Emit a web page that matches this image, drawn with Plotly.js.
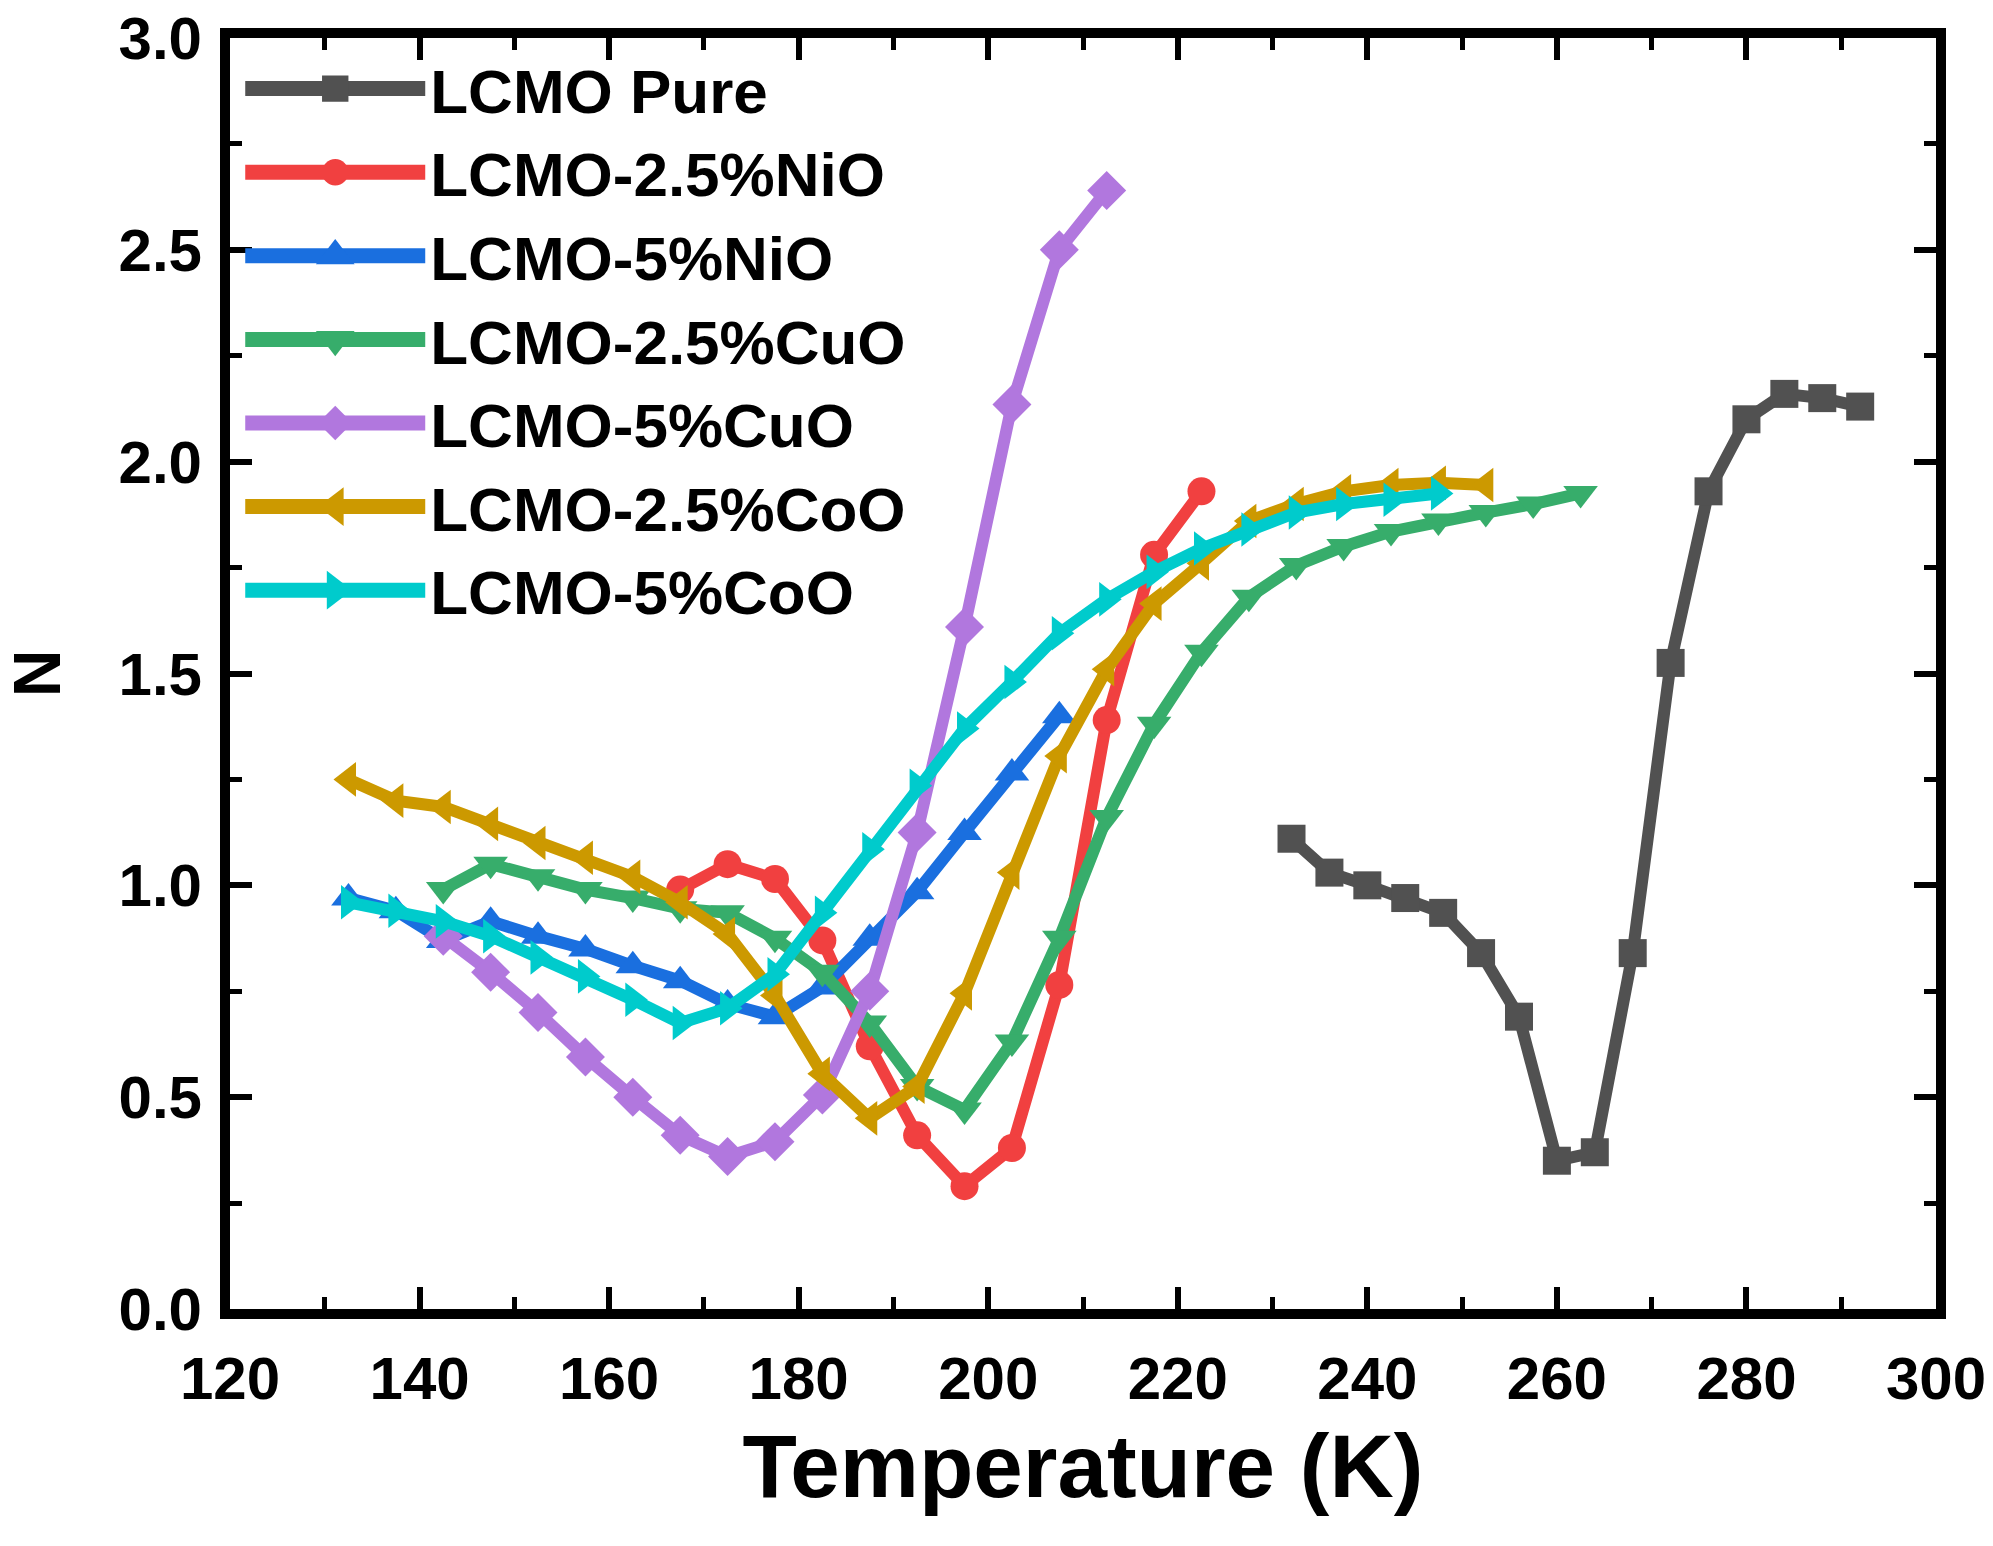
<!DOCTYPE html>
<html>
<head>
<meta charset="utf-8">
<script src="https://cdn.plot.ly/plotly-3.0.1.min.js"></script>
<style>
  html, body { margin: 0; padding: 0; background: #fff; }
  #chart { width: 1993px; height: 1546px; }
</style>
</head>
<body>
<div id="chart"></div>
<script>
// temperatures (K)
const tPure = [232, 236, 240, 244, 248, 252, 256, 260, 264, 268, 272, 276, 280, 284, 288, 292];
const tNi25 = [167.5, 172.5, 177.5, 182.5, 187.5, 192.5, 197.5, 202.5, 207.5, 212.5, 217.5, 222.5];
const tNi5 = [132.5, 137.5, 142.5, 147.5, 152.5, 157.5, 162.5, 167.5, 172.5, 177.5, 182.5, 187.5,
    192.5, 197.5, 202.5, 207.5];
const tCu25 = [142.5, 147.5, 152.5, 157.5, 162.5, 167.5, 172.5, 177.5, 182.5, 187.5, 192.5, 197.5,
    202.5, 207.5, 212.5, 217.5, 222.5, 227.5, 232.5, 237.5, 242.5, 247.5, 252.5, 257.5, 262.5];
const tCu5 = [142.5, 147.5, 152.5, 157.5, 162.5, 167.5, 172.5, 177.5, 182.5, 187.5, 192.5, 197.5,
    202.5, 207.5, 212.5];
const tCo25 = [132.5, 137.5, 142.5, 147.5, 152.5, 157.5, 162.5, 167.5, 172.5, 177.5, 182.5, 187.5,
    192.5, 197.5, 202.5, 207.5, 212.5, 217.5, 222.5, 227.5, 232.5, 237.5, 242.5, 247.5, 252.5];
const tCo5 = [132.5, 137.5, 142.5, 147.5, 152.5, 157.5, 162.5, 167.5, 172.5, 177.5, 182.5, 187.5,
    192.5, 197.5, 202.5, 207.5, 212.5, 217.5, 222.5, 227.5, 232.5, 237.5, 242.5, 247.5];

// N values
const nPure = [1.11, 1.03, 1.00, 0.97, 0.935, 0.84, 0.69, 0.35, 0.37, 0.84, 1.525, 1.93, 2.10, 2.16, 2.15, 2.13];
const nNi25 = [0.99, 1.05, 1.015, 0.87, 0.62, 0.41, 0.29, 0.38, 0.765, 1.39, 1.78, 1.93];
const nNi5 = [0.97, 0.94, 0.87, 0.915, 0.88, 0.85, 0.81, 0.775, 0.72, 0.69, 0.76, 0.875,
    0.985, 1.125, 1.265, 1.40];
const nCu25 = [0.99, 1.05, 1.02, 0.99, 0.97, 0.945, 0.935, 0.875, 0.795, 0.675, 0.525, 0.47,
    0.63, 0.875, 1.16, 1.38, 1.55, 1.68, 1.755, 1.80, 1.835, 1.86, 1.88, 1.90, 1.925];
const nCu5 = [0.88, 0.795, 0.70, 0.595, 0.50, 0.41, 0.36, 0.395, 0.505, 0.75, 1.125, 1.61,
    2.135, 2.50, 2.64];
const nCo25 = [1.25, 1.20, 1.185, 1.145, 1.10, 1.065, 1.02, 0.96, 0.885, 0.74, 0.555, 0.45,
    0.525, 0.745, 1.03, 1.305, 1.51, 1.665, 1.76, 1.86, 1.90, 1.93, 1.945, 1.95, 1.945];
const nCo5 = [0.96, 0.94, 0.915, 0.88, 0.83, 0.785, 0.73, 0.675, 0.71, 0.79, 0.935, 1.085,
    1.235, 1.37, 1.48, 1.595, 1.675, 1.74, 1.795, 1.84, 1.88, 1.90, 1.91, 1.925];

const names = ['LCMO Pure', 'LCMO-2.5%NiO', 'LCMO-5%NiO', 'LCMO-2.5%CuO', 'LCMO-5%CuO', 'LCMO-2.5%CoO', 'LCMO-5%CoO'];
const colors = ['#515151', '#F14040', '#1A6FDF', '#37AD6B', '#B177DE', '#CC9900', '#00CBCC'];
const symbols = ['square', 'circle', 'triangle-up', 'triangle-down', 'diamond', 'triangle-left', 'triangle-right'];
const sizes = [28, 28, 30, 30, 30, 30, 30];

const xs = [tPure, tNi25, tNi5, tCu25, tCu5, tCo25, tCo5];
const ys = [nPure, nNi25, nNi5, nCu25, nCu5, nCo25, nCo5];

const font = 'Liberation Sans, Arial, sans-serif';

const traces = names.map((name, i) => ({
    x: xs[i],
    y: ys[i],
    name: name,
    type: 'scatter',
    mode: 'lines+markers',
    line: { color: colors[i], width: 12 },
    marker: { color: colors[i], symbol: symbols[i], size: sizes[i] }
}));

const axisCommon = {
    showgrid: false,
    zeroline: false,
    showline: true,
    linecolor: '#000',
    linewidth: 10,
    mirror: 'allticks',
    ticks: 'inside',
    ticklen: 22,
    tickwidth: 6,
    tickcolor: '#000',
    tickfont: { family: font, size: 60, color: '#000', weight: 'bold' }
};

const layout = {
    width: 1993,
    height: 1546,
    margin: { l: 230, r: 57, t: 38, b: 237 },
    paper_bgcolor: '#fff',
    plot_bgcolor: '#fff',
    showlegend: true,
    legend: {
        x: 0.006, y: 0.997,
        xanchor: 'left', yanchor: 'top',
        bgcolor: 'rgba(0,0,0,0)',
        itemwidth: 180,
        tracegroupgap: 0,
        font: { family: font, size: 62, color: '#000', weight: 'bold' }
    },
    xaxis: Object.assign({}, axisCommon, {
        range: [120, 300],
        dtick: 20,
        tick0: 120,
        ticklabelstandoff: 8,
        minor: { dtick: 10, ticks: 'inside', ticklen: 12, tickwidth: 5, tickcolor: '#000' },
        title: { text: 'Temperature (K)', standoff: 28,
            font: { family: font, size: 89, color: '#000', weight: 'bold' } }
    }),
    yaxis: Object.assign({}, axisCommon, {
        range: [0, 3],
        dtick: 0.5,
        tick0: 0,
        tickformat: '.1f',
        ticklabelstandoff: 6,
        minor: { dtick: 0.25, ticks: 'inside', ticklen: 12, tickwidth: 5, tickcolor: '#000' },
        title: { text: 'N', standoff: 42,
            font: { family: font, size: 66, color: '#000', weight: 'bold' } }
    })
};

Plotly.newPlot('chart', traces, layout, { displayModeBar: false, staticPlot: true }).then(gd => {
    // thicker legend samples, like the original figure
    gd.querySelectorAll('.legend path.js-line').forEach(p => {
        p.style.strokeWidth = '15px';
    });
    gd.querySelectorAll('.legend g.traces').forEach((g, i) => {
        const k = symbols[i].startsWith('triangle') ? 2.1 : 1.65;
        g.querySelectorAll('path.scatterpts').forEach(p => {
            const t = p.getAttribute('transform') || '';
            p.setAttribute('transform', t + ' scale(' + k + ')');
        });
    });
});
</script>
</body>
</html>
